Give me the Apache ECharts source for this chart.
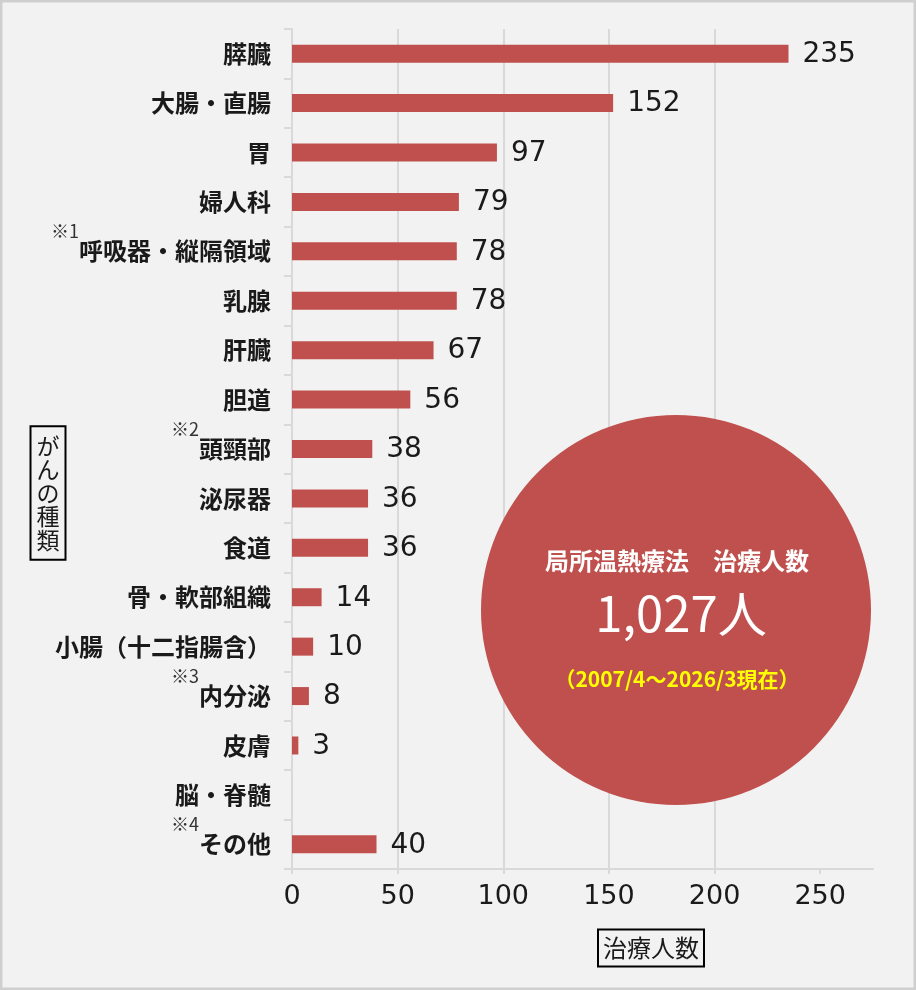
<!DOCTYPE html>
<html lang="ja">
<head>
    <meta charset="UTF-8">
    <title>局所温熱療法 治療人数</title>
    <style>
        html, body { margin: 0; padding: 0; background: #f2f2f2; }
    </style>
</head>
<body>
    <div id="myChart" style="width: 916px;height:990px;"></div>
</body>
<script src="https://cdn.jsdelivr.net/npm/echarts@6/dist/echarts.min.js"></script>
<script>
    // data
    let categories = ['膵臓', '大腸・直腸', '胃', '婦人科', '呼吸器・縦隔領域', '乳腺', '肝臓', '胆道',
        '頭頸部', '泌尿器', '食道', '骨・軟部組織', '小腸（十二指腸含）', '内分泌', '皮膚', '脳・脊髄', 'その他'];
    let notes = ['', '', '', '', '※1', '', '', '', '※2', '', '', '', '', '※3', '', '', '※4'];
    let patients = [235, 152, 97, 79, 78, 78, 67, 56, 38, 36, 36, 14, 10, 8, 3, '-', 40];
    let xTicks = [0, 50, 100, 150, 200, 250];
    let totalText = '1,027人';

    const jp = '"Noto Sans CJK JP", sans-serif';
    const num = '"DejaVu Sans", sans-serif';
    const red = '#c0504d';
    const grey = '#d9d9d9';

    let chart = echarts.init(document.getElementById('myChart'));

    let option = {
      backgroundColor: '#f2f2f2',
      animation: false,
      grid: { left: 292, right: 43, top: 29, bottom: 121 },
      xAxis: {
        type: 'value',
        min: 0,
        max: 275,
        interval: 50,
        axisLine: { show: true, lineStyle: { color: grey, width: 2 } },
        axisTick: { show: true, length: 5, customValues: xTicks, lineStyle: { color: grey, width: 2 } },
        axisLabel: {
          customValues: xTicks,
          margin: 14,
          fontFamily: num,
          fontSize: 27,
          color: '#1a1a1a'
        },
        splitLine: { show: true, showMaxLine: false, lineStyle: { color: grey, width: 2 } }
      },
      yAxis: {
        type: 'category',
        inverse: true,
        data: categories,
        axisLine: { lineStyle: { color: grey, width: 2 } },
        axisTick: { show: true, length: 8, lineStyle: { color: grey, width: 2 } },
        axisLabel: {
          interval: 0,
          margin: 21,
          formatter: function (val, i) {
            if (notes[i]) return '{s|' + notes[i] + '}{n|' + val + '}';
            return '{n|' + val + '}';
          },
          rich: {
            n: { fontFamily: jp, fontSize: 24, fontWeight: 'bold', color: '#1a1a1a', lineHeight: 58 },
            s: { fontFamily: jp, fontSize: 18, color: '#333', verticalAlign: 'top', lineHeight: 18 }
          }
        }
      },
      series: [{
        type: 'bar',
        data: patients,
        barWidth: 18,
        itemStyle: { color: red },
        label: {
          show: true,
          position: 'right',
          distance: 14,
          offset: [0, 1],
          fontFamily: num,
          fontSize: 28,
          color: '#1a1a1a'
        }
      }],
      graphic: [
        {
          type: 'rect', z: 0, silent: true,
          shape: { x: 1, y: 1, width: 914, height: 988 },
          style: { fill: 'none', stroke: '#cfcfcf', lineWidth: 3 }
        },
        {
          type: 'circle', z: 10,
          shape: { cx: 676, cy: 610, r: 195 },
          style: { fill: red }
        },
        {
          type: 'text', z: 11, x: 677, y: 561,
          style: { text: '局所温熱療法　治療人数', font: 'bold 24px ' + jp, fill: '#fff', align: 'center', verticalAlign: 'middle' }
        },
        {
          type: 'text', z: 11, x: 681, y: 613,
          style: { text: totalText, font: '49px ' + jp, fill: '#fff', align: 'center', verticalAlign: 'middle' }
        },
        {
          type: 'text', z: 11, x: 677, y: 679,
          style: { text: '（2007/4～2026/3現在）', font: 'bold 21px ' + jp, fill: '#ffff00', align: 'center', verticalAlign: 'middle' }
        },
        {
          type: 'text', z: 11, x: 48, y: 493,
          style: {
            text: 'が\nん\nの\n種\n類', font: '23px ' + jp, lineHeight: 23.5, fill: '#1a1a1a',
            align: 'center', verticalAlign: 'middle',
            borderColor: '#000', borderWidth: 2, padding: [8, 6]
          }
        },
        {
          type: 'text', z: 11, x: 651, y: 948,
          style: {
            text: '治療人数', font: '24px ' + jp, lineHeight: 27, fill: '#1a1a1a',
            align: 'center', verticalAlign: 'middle',
            borderColor: '#000', borderWidth: 2, padding: [5, 5]
          }
        }
      ]
    };

    chart.setOption(option);
</script>
</html>
